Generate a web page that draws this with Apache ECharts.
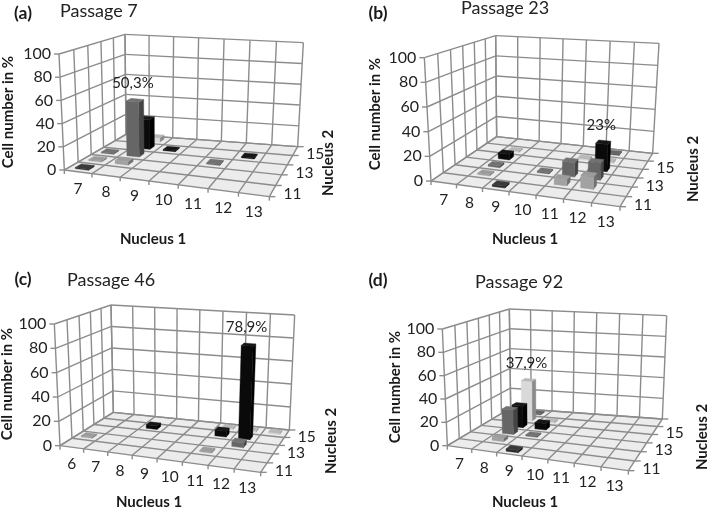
<!DOCTYPE html>
<html><head><meta charset="utf-8">
<style>html,body{margin:0;padding:0;background:#fff}#c{width:709px;height:508px}</style>
<script src="https://cdn.jsdelivr.net/npm/echarts@6/dist/echarts.min.js"></script>
</head><body><div id="c"></div>
<script>
// ---- data: one row per Nucleus 2 value, one column per Nucleus 1 value
const nucleus1A = ['7','8','9','10','11','12','13'];
const nucleus1C = ['6','7','8','9','10','11','12','13'];
const nucleus2Five = ['11','12','13','14','15'];
const nucleus2Six = ['11','12','13','14','15','16'];
const nucleus2Labels = ['11','13','15'];
const percentTicks = [0,20,40,60,80,100];

const passage7 = [
 [1,0,0,0,0,0,0],
 [1,3,0,0,0,0,0],
 [1,50.3,0,0,1,0,0],
 [0,28,1,0,0,1,0],
 [0,4,0,0,0,0,0]];
const passage23 = [
 [0,0,1.5,0,0,0,0],
 [0,1,0,0,5,10,0],
 [0,1.5,0,1,12,14,0],
 [0,5,0,0,0,23,0],
 [0,1,0,0,1,1,0],
 [0,0,0,0,0,1,0]];
const passage46 = [
 [0,0,0,0,0,0,0,0],
 [1,0,0,0,0,1,0,0],
 [0,0,0,0,0,0,4,0],
 [0,0,3,0,0,5,78.9,0],
 [0,0,0,0,0,1,1,1]];
const passage92 = [
 [0,0,2,0,0,0,0],
 [0,3,0,0,0,0,0],
 [0,22,1,0,0,0,0],
 [0,20,6,0,0,0,0],
 [0,37.9,1,0,0,0,0],
 [0,1,0,0,0,0,0]];

const panels = [
 {tag:'(a)',title:'Passage 7',cats:nucleus1A,depth:nucleus2Five,rows:passage7,peak:50.3,
  ox:0,oy:0,fl:[193,510],fr:[808,590],br:[893,440],bl:[378,403],tfl:[177,162],tfr:[825,228],tbr:[910,128],tbl:[375,103],
  tagPos:[23,13],titlePos:[60,11],n1:[153,239],cell:[8,112],n2:[328,163]},
 {tag:'(b)',title:'Passage 23',cats:nucleus1A,depth:nucleus2Six,rows:passage23,peak:23,
  ox:355,oy:0,fl:[228,543],fr:[795,620],br:[893,460],bl:[425,410],tfl:[208,173],tfr:[815,217],tbr:[912,130],tbl:[422,107],
  tagPos:[378,13],titlePos:[461,8],n1:[525,239],cell:[375,114],n2:[693,169]},
 {tag:'(c)',title:'Passage 46',cats:nucleus1C,depth:nucleus2Five,rows:passage46,peak:78.9,
  ox:0,oy:254,fl:[180,575],fr:[782,655],br:[868,528],bl:[340,475],tfl:[163,210],tfr:[800,264],tbr:[884,183],tbl:[333,153],
  tagPos:[23,279],titlePos:[67,280],n1:[149,502],cell:[7,384],n2:[331,441]},
 {tag:'(d)',title:'Passage 92',cats:nucleus1A,depth:nucleus2Six,rows:passage92,peak:37.9,
  ox:355,oy:254,fl:[277,575],fr:[820,650],br:[922,495],bl:[467,462],tfl:[262,225],tfr:[838,285],tbr:[935,185],tbl:[463,165],
  tagPos:[378,280],titlePos:[475,282],n1:[525,502],cell:[395,387],n2:[702,437]}
];

const rowShades = [
 {f:'#2b2b2b',s:'#1a1a1a',t:'#3a3a3a'},
 {f:'#a2a2a2',s:'#6f6f6f',t:'#9c9c9c'},
 {f:'#666666',s:'#444444',t:'#727272'},
 {f:'#0a0a0a',s:'#000000',t:'#161616'},
 {f:'#d9d9d9',s:'#8a8a8a',t:'#b8b8b8'},
 {f:'#555555',s:'#3c3c3c',t:'#666666'}];
const FONT='Lato, "Open Sans", sans-serif';
const GRID='#8c8c8c';
const WARP_U=-0.065, WARP_V=0.15;

function bilinear(p0,p1,p2,p3){
  return (u,v)=>[0,1].map(i=>(1-u)*(1-v)*p0[i]+u*(1-v)*p1[i]+u*v*p2[i]+(1-u)*v*p3[i]);
}
function makeProjection(p){
  const s=q=>[q[0]/3+p.ox,q[1]/3+p.oy];
  const floor=bilinear(s(p.fl),s(p.fr),s(p.br),s(p.bl));
  const top=bilinear(s(p.tfl),s(p.tfr),s(p.tbr),s(p.tbl));
  return (u,v,z)=>{
    const U=u+WARP_U*u*(1-u),V=v+WARP_V*v*(1-v);
    const a=floor(U,V),b=top(U,V),k=z/100;
    return [a[0]+(b[0]-a[0])*k,a[1]+(b[1]-a[1])*k];
  };
}
function line(a,b,w,c){return {type:'line',shape:{x1:a[0],y1:a[1],x2:b[0],y2:b[1]},style:{stroke:c||GRID,lineWidth:w||1.4}};}
function poly(pts,fill){return {type:'polygon',shape:{points:pts},style:{fill:fill,stroke:fill,lineWidth:0.4}};}
function label(pos,text,size,extra){return {type:'text',x:pos[0],y:pos[1],style:Object.assign({text:text,font:(size||14)+'px '+FONT,fill:'#222',align:'center',verticalAlign:'middle'},extra||{})};}

const series=[], titles=[], graphics=[];
panels.forEach(p=>{
  const P=makeProjection(p), nx=p.cats.length, ny=p.depth.length;
  series.push({type:'custom',coordinateSystem:'none',silent:true,animation:false,z:1,data:[[0]],
    renderItem(){
      const ch=[];
      ch.push(poly([P(0,0,0),P(1,0,0),P(1,1,0),P(0,1,0)],'#ececec'));
      percentTicks.forEach(t=>{
        ch.push(line(P(0,0,t),P(0,1,t)));ch.push(line(P(0,1,t),P(1,1,t)));
        const a=P(0,0,t);
        ch.push(line(a,[a[0]-5,a[1]]));
        ch.push(label([a[0]-8,a[1]],String(t),16,{align:'right'}));
      });
      for(let i=0;i<=nx;i++){
        const u=i/nx;
        ch.push(line(P(u,0,0),P(u,1,0)));ch.push(line(P(u,1,0),P(u,1,100)));
        const a=P(u,0,0);ch.push(line(a,[a[0],a[1]+4]));
        if(i<nx){const m=P((i+.5)/nx,0,0);ch.push(label([m[0],m[1]+17],p.cats[i],15.5));}
      }
      for(let j=0;j<=ny;j++){
        const v=j/ny;
        ch.push(line(P(0,v,0),P(1,v,0)));ch.push(line(P(0,v,0),P(0,v,100)));
        const a=P(1,v,0);ch.push(line(a,[a[0]+6,a[1]]));
      }
      nucleus2Labels.forEach(l=>{
        const j=p.depth.indexOf(l),a=P(1,(j+.5)/ny,0);
        ch.push(label([a[0]+20,a[1]+3],l,15.5));
      });
      return {type:'group',children:ch};
    }});
  const items=[];
  for(let r=ny-1;r>=0;r--)for(let c=nx-1;c>=0;c--){const val=p.rows[r][c];if(val>0)items.push([c,r,val]);}
  series.push({type:'custom',coordinateSystem:'none',silent:true,animation:false,z:2,data:items,
    renderItem(params,api){
      const c=api.value(0),r=api.value(1),val=api.value(2),sh=rowShades[r];
      const u0=(c+.26)/nx,u1=(c+.74)/nx,v0=(r+.28)/ny,v1=(r+.72)/ny;
      const ch=[
        poly([P(u1,v0,0),P(u1,v1,0),P(u1,v1,val),P(u1,v0,val)],sh.s),
        poly([P(u0,v0,0),P(u1,v0,0),P(u1,v0,val),P(u0,v0,val)],sh.f),
        poly([P(u0,v0,val),P(u1,v0,val),P(u1,v1,val),P(u0,v1,val)],sh.t)];
      if(val===p.peak){
        const m=P((u0+u1)/2,(v0+v1)/2,val);
        ch.push(label([m[0]-2,m[1]-17],String(val).replace('.',',')+'%',15));
      }
      return {type:'group',children:ch};
    }});
  titles.push({text:p.title,left:p.titlePos[0],top:p.titlePos[1]-11,padding:0,textStyle:{fontFamily:FONT,fontSize:18,fontWeight:'normal',color:'#222',lineHeight:22}});
  const b=(pos,t,s,rot)=>graphics.push({type:'text',x:pos[0],y:pos[1],rotation:rot||0,z:5,style:{text:t,font:'bold '+s+'px '+FONT,fill:'#1a1a1a',align:'center',verticalAlign:'middle'}});
  b(p.tagPos,p.tag,17.5);
  b(p.n1,'Nucleus 1',15);
  b(p.cell,'Cell number in %',15,Math.PI/2);
  b(p.n2,'Nucleus 2',15,Math.PI/2);
});
const chart=echarts.init(document.getElementById('c'),null,{renderer:'canvas'});
chart.setOption({animation:false,backgroundColor:'#fff',title:titles,graphic:graphics,series:series});
</script></body></html>
